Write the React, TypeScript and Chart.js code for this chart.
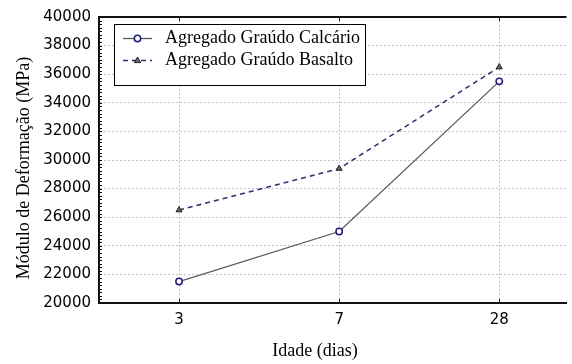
import { useEffect, useRef } from "react";
import { Chart, registerables } from "chart.js";

Chart.register(...registerables);

// Ages (days) on the x axis, modulus values in MPa
const ages = ["3", "7", "28"];
const calcario = [21500, 25000, 35500];
const basalto = [26500, 29400, 36500];
const seriesNames = ["Agregado Graúdo Calcário", "Agregado Graúdo Basalto"];
const yTicks = [20000, 22000, 24000, 26000, 28000, 30000, 32000, 34000, 36000, 38000, 40000];
const yMinorStep = 250;
const xTitle = "Idade (dias)";
const yTitle = "Módulo de Deformação (MPa)";

const SERIF = '"Liberation Serif", "Times New Roman", serif';
const SANS = '"DejaVu Sans", sans-serif';
const W = 572;
const H = 364;

// Frame, minor ticks, axis titles and the boxed legend
const decorations = {
  id: "decorations",
  afterDraw(chart: any) {
    const { ctx, chartArea: a, scales } = chart;
    const xs = scales.x;
    const ys = scales.y;
    ctx.save();

    // top frame line
    ctx.strokeStyle = "#111";
    ctx.lineWidth = 2;
    ctx.beginPath();
    ctx.moveTo(a.left - 1, a.top);
    ctx.lineTo(a.right, a.top);
    ctx.stroke();

    // minor ticks on the y axis (inside)
    ctx.lineWidth = 1;
    ctx.beginPath();
    for (let v = yTicks[0]; v <= yTicks[yTicks.length - 1]; v += yMinorStep) {
      const py = Math.round(ys.getPixelForValue(v)) + 0.5;
      ctx.moveTo(a.left, py);
      ctx.lineTo(a.left + 3, py);
    }
    // category ticks at bottom and top (inside)
    ages.forEach((_, i) => {
      const px = Math.round(xs.getPixelForValue(i)) + 0.5;
      ctx.moveTo(px, a.bottom);
      ctx.lineTo(px, a.bottom - 4);
      ctx.moveTo(px, a.top);
      ctx.lineTo(px, a.top + 4);
    });
    ctx.stroke();

    // axis titles
    ctx.fillStyle = "#000";
    ctx.font = `18px ${SERIF}`;
    ctx.textAlign = "center";
    ctx.textBaseline = "middle";
    ctx.fillText(xTitle, 315, 351);
    ctx.save();
    ctx.translate(24, 168);
    ctx.rotate(-Math.PI / 2);
    ctx.fillText(yTitle, 0, 0);
    ctx.restore();

    // legend box
    const textX = 165;
    const widths = chart.data.datasets.map((d: any) => ctx.measureText(d.label).width);
    const boxL = 114.5;
    const boxT = 24.5;
    const boxR = Math.round(textX + Math.max(...widths) + 5) + 0.5;
    const boxB = 85.5;
    ctx.fillStyle = "#fff";
    ctx.fillRect(boxL, boxT, boxR - boxL, boxB - boxT);
    ctx.strokeStyle = "#000";
    ctx.lineWidth = 1;
    ctx.strokeRect(boxL, boxT, boxR - boxL, boxB - boxT);

    const rows = [38.5, 60.5];
    chart.data.datasets.forEach((d: any, i: number) => {
      const ry = rows[i];
      ctx.save();
      ctx.strokeStyle = d.borderColor;
      ctx.lineWidth = d.borderWidth;
      ctx.setLineDash(d.borderDash || []);
      ctx.beginPath();
      ctx.moveTo(123, ry);
      ctx.lineTo(152, ry);
      ctx.stroke();
      ctx.restore();

      const cx = 137.5;
      const r = d.pointRadius;
      ctx.save();
      ctx.fillStyle = d.pointBackgroundColor;
      ctx.strokeStyle = d.pointBorderColor;
      ctx.lineWidth = d.pointBorderWidth;
      ctx.beginPath();
      if (d.pointStyle === "triangle") {
        ctx.moveTo(cx, ry - r);
        ctx.lineTo(cx + r * 0.9, ry + r * 0.6);
        ctx.lineTo(cx - r * 0.9, ry + r * 0.6);
        ctx.closePath();
      } else {
        ctx.arc(cx, ry, r, 0, Math.PI * 2);
      }
      ctx.fill();
      ctx.stroke();
      ctx.restore();

      ctx.fillStyle = "#000";
      ctx.textAlign = "left";
      ctx.textBaseline = "middle";
      ctx.fillText(d.label, textX, ry);
    });

    ctx.restore();
  },
};

export default function App() {
  const canvasRef = useRef<HTMLCanvasElement | null>(null);

  useEffect(() => {
    const canvas = canvasRef.current;
    if (!canvas) return;

    const chart = new Chart(canvas, {
      type: "line",
      data: {
        datasets: [
          {
            label: seriesNames[0],
            data: calcario.map((v, i) => ({ x: i, y: v })),
            borderColor: "#5a5a5a",
            borderWidth: 1.3,
            pointStyle: "circle",
            pointRadius: 3.2,
            pointBackgroundColor: "#ffffff",
            pointBorderColor: "#1e1e78",
            pointBorderWidth: 1.5,
            tension: 0,
          } as any,
          {
            label: seriesNames[1],
            data: basalto.map((v, i) => ({ x: i, y: v })),
            borderColor: "#2e2e6e",
            borderWidth: 1.5,
            borderDash: [5, 4],
            pointStyle: "triangle",
            pointRadius: 3.5,
            pointBackgroundColor: "#666666",
            pointBorderColor: "#222222",
            pointBorderWidth: 1,
            tension: 0,
          } as any,
        ],
      },
      options: {
        responsive: false,
        animation: false,
        devicePixelRatio: 1,
        layout: { padding: { top: 13, left: 0, right: 0, bottom: 0 } },
        plugins: {
          legend: { display: false },
          tooltip: { enabled: false },
          title: { display: false },
        },
        scales: {
          x: {
            type: "linear",
            bounds: "data",
            min: -0.5,
            max: 2.42,
            afterBuildTicks: (s: any) => {
              s.ticks = ages.map((_, i) => ({ value: i }));
            },
            afterFit: (s: any) => {
              s.height = 61;
            },
            ticks: {
              autoSkip: false,
              maxRotation: 0,
              padding: 8,
              color: "#000",
              font: { family: SANS, size: 15 },
              callback: (v: any) => ages[v] ?? "",
            },
            grid: { color: "#c4c4c4", lineWidth: 1, drawTicks: false },
            border: { color: "#111", width: 2, dash: [2, 2] },
          },
          y: {
            type: "linear",
            min: yTicks[0],
            max: yTicks[yTicks.length - 1],
            afterBuildTicks: (s: any) => {
              s.ticks = yTicks.map((v) => ({ value: v }));
            },
            afterFit: (s: any) => {
              s.width = 99;
            },
            ticks: {
              padding: 8,
              color: "#000",
              font: { family: SANS, size: 15 },
              callback: (v: any) => String(v),
            },
            grid: { color: "#c4c4c4", lineWidth: 1, drawTicks: false },
            border: { color: "#111", width: 2, dash: [2, 2] },
          },
        },
      },
      plugins: [decorations],
    } as any);

    return () => chart.destroy();
  }, []);

  return (
    <div style={{ position: "absolute", left: 0, top: 0, width: W, height: H, background: "#fff" }}>
      <canvas ref={canvasRef} width={W} height={H} style={{ display: "block" }} />
    </div>
  );
}
